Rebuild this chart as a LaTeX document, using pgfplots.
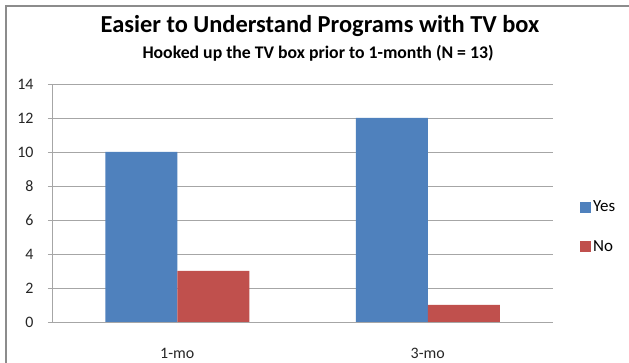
\documentclass[border=0pt]{standalone}
\usepackage{pgfplots}
\pgfplotsset{compat=1.18}
\usepackage{fontspec}
\setmainfont{Carlito}
\definecolor{barblue}{HTML}{4F81BD}
\definecolor{barred}{HTML}{C0504D}
\definecolor{framegray}{HTML}{8C8C8C}
\definecolor{gridgray}{HTML}{A6A6A6}
\begin{document}
\begin{tikzpicture}
\useasboundingbox (0bp,0bp) rectangle (629bp,363bp);
% page frame
\fill[white] (0bp,0bp) rectangle (629bp,363bp);
\draw[framegray, line width=1.2bp] (6bp,0bp) -- (6bp,357bp) -- (629bp,357bp);
% titles
\node[font=\bfseries\fontsize{24.5}{26}\selectfont] at (320bp,337bp) {Easier to Understand Programs with TV box};
\node[font=\bfseries\fontsize{17.8}{19}\selectfont] at (318bp,310bp) {Hooked up the TV box prior to 1-month (N = 13)};
\begin{axis}[
  at={(52bp,41bp)}, anchor=south west,
  scale only axis, width=501bp, height=238bp,
  ybar, bar width=72bp,
  xmin=-0.5, xmax=1.5,
  ymin=0, ymax=14, ytick={0,2,...,14},
  xtick={0,1}, xticklabels={1-mo,3-mo},
  xtick style={draw=none},
  ytick style={gridgray, line width=0.8bp},
  major tick length=4bp,
  tick align=outside,
  ymajorgrids,
  grid style={gridgray, line width=0.9bp},
  axis x line*=bottom, axis y line*=left,
  axis line style={gridgray, line width=0.9bp, -},
  ticklabel style={font=\fontsize{16}{18}\selectfont, text=black!85},
  /pgf/number format/assume math mode=true,
  yticklabel style={xshift=-11bp},
  xticklabel style={yshift=-19bp},
  legend style={at={(1.0,0.40)}, anchor=west, xshift=24bp, draw=none, fill=none,
    font=\fontsize{17}{19}\selectfont, row sep=23bp,
    legend cell align=left},
  legend image code/.code={\fill[#1] (0bp,-5.5bp) rectangle (11bp,5.5bp);},
]
\addplot[fill=barblue, draw=none, bar shift=-36bp] coordinates {(0,10) (1,12)};
\addplot[fill=barred, draw=none, bar shift=36bp] coordinates {(0,3) (1,1)};
\legend{Yes,No}
\end{axis}
\end{tikzpicture}
\end{document}
